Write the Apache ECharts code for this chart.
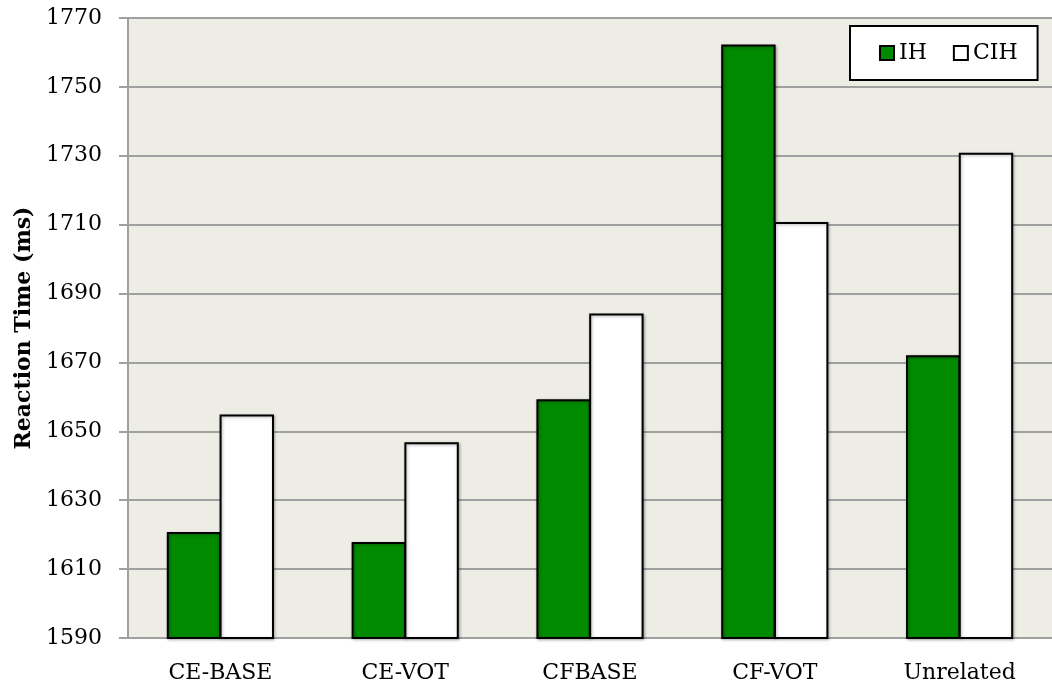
<!DOCTYPE html>
<html>
<head>
<meta charset="utf-8">
<script src="https://cdn.jsdelivr.net/npm/echarts@6/dist/echarts.min.js"></script>
<style>
  html, body { margin: 0; padding: 0; background: #fff; }
  #chart { width: 1052px; height: 687px; }
</style>
</head>
<body>
<div id="chart"></div>
<script>
// data
var categories = ['CE-BASE', 'CE-VOT', 'CFBASE', 'CF-VOT', 'Unrelated'];
var ihValues = [1620.8, 1617.9, 1659.3, 1762.3, 1672.1];
var cihValues = [1654.9, 1646.8, 1684.2, 1710.8, 1730.9];

var serif = '"DejaVu Serif", "Liberation Serif", serif';
var barShadow = {
    borderColor: '#000',
    borderWidth: 2,
    shadowBlur: 3,
    shadowColor: 'rgba(0,0,0,0.3)',
    shadowOffsetX: 1,
    shadowOffsetY: 1
};

var chart = echarts.init(document.getElementById('chart'));
chart.setOption({
    animation: false,
    grid: {
        left: 128,
        top: 18,
        bottom: 49,
        right: -4,
        show: true,
        backgroundColor: '#eeede5',
        borderWidth: 0
    },
    legend: {
        left: 850,
        top: 26,
        padding: [16, 20, 16, 29],
        backgroundColor: '#fff',
        borderColor: '#000',
        borderWidth: 2,
        itemWidth: 14,
        itemHeight: 14,
        itemGap: 26,
        textStyle: { fontFamily: serif, fontSize: 22, color: '#000' },
        data: [
            { name: 'IH', icon: 'rect' },
            { name: 'CIH', icon: 'rect' }
        ]
    },
    xAxis: {
        type: 'category',
        data: categories,
        axisLine: { lineStyle: { color: '#a0a0a0', width: 2 } },
        axisTick: { show: false },
        axisLabel: { fontFamily: serif, fontSize: 22, color: '#000', margin: 24 }
    },
    yAxis: {
        type: 'value',
        min: 1590,
        max: 1770,
        interval: 20,
        name: 'Reaction Time (ms)',
        nameLocation: 'middle',
        nameGap: 92,
        nameTextStyle: { fontFamily: serif, fontSize: 22, fontWeight: 'bold', color: '#000' },
        axisLine: { show: true, lineStyle: { color: '#a0a0a0', width: 2 } },
        axisTick: { show: true, length: 9, lineStyle: { color: '#a0a0a0', width: 2 } },
        axisLabel: {
            fontFamily: serif, fontSize: 22, color: '#000', margin: 26,
            formatter: function (v) { return String(v); }
        },
        splitLine: { lineStyle: { color: '#a0a0a0', width: 2 } }
    },
    series: [
        {
            name: 'IH',
            type: 'bar',
            data: ihValues,
            itemStyle: Object.assign({ color: '#008a00' }, barShadow)
        },
        {
            name: 'CIH',
            type: 'bar',
            data: cihValues,
            barGap: '-3%',
            barCategoryGap: '42%',
            itemStyle: Object.assign({ color: '#ffffff' }, barShadow)
        }
    ]
});
</script>
</body>
</html>
